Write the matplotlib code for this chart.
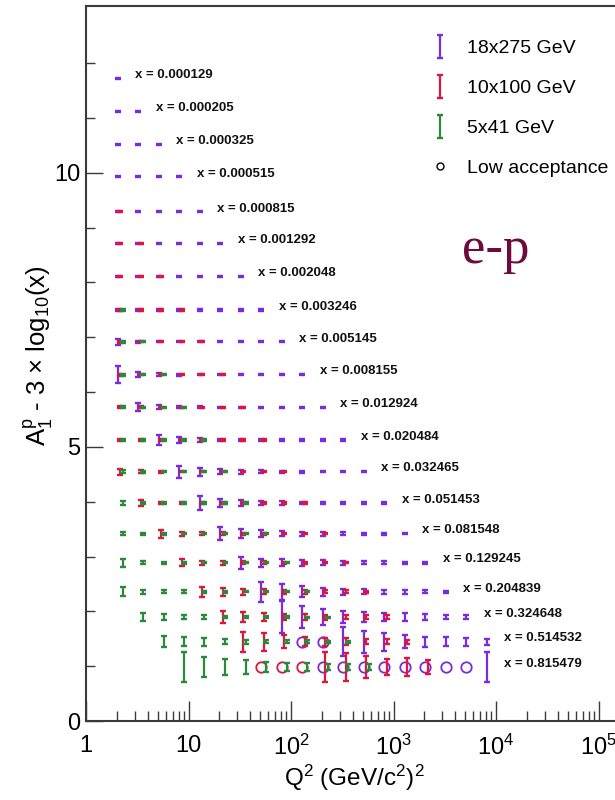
import numpy as np
import matplotlib
matplotlib.use("Agg")
import matplotlib.pyplot as plt
from matplotlib.lines import Line2D
from matplotlib.legend_handler import HandlerErrorbar
from matplotlib.ticker import FixedLocator, FuncFormatter, MultipleLocator, NullFormatter

plt.rcParams['font.family'] = ['Liberation Sans', 'DejaVu Sans']
plt.rcParams['mathtext.fontset'] = 'custom'
plt.rcParams['mathtext.rm'] = 'Liberation Sans'
plt.rcParams['mathtext.it'] = 'Liberation Sans:italic'
plt.rcParams['mathtext.bf'] = 'Liberation Sans:bold'

# x bins, one row of points each
x_bins = [0.000129, 0.000205, 0.000325, 0.000515, 0.000815, 0.001292, 0.002048,
          0.003246, 0.005145, 0.008155, 0.012924, 0.020484, 0.032465, 0.051453,
          0.081548, 0.129245, 0.204839, 0.324648, 0.514532, 0.815479]
# projected A1^p in each x bin
a1_proj = [0.05, 0.06, 0.05, 0.06, 0.02, 0.04, 0.04, 0.03, 0.05, 0.05,
           0.06, 0.06, 0.08, 0.11, 0.15, 0.22, 0.29, 0.43, 0.58, 0.72]
# Q2 bin centres (GeV^2)
q2_bins = [2.05, 3.25, 5.15, 8.16, 12.9, 20.5, 32.5, 51.5, 81.6, 129, 205,
           325, 515, 816, 1293, 2050, 3250, 5150, 8160]

# 18x275: first Q2 bin per row, then stat. errors bin by bin
ep18_first = [0, 0, 0, 0, 0, 0, 0, 0, 0, 0, 1, 2, 3, 4, 5, 6, 7, 8, 9, 10]
ep18_err = [
    [0.01],
    [0.01, 0.01],
    [0.01, 0.01, 0.01],
    [0.01, 0.01, 0.01, 0.01],
    [0.01, 0.01, 0.01, 0.01, 0.01],
    [0.015, 0.01, 0.01, 0.01, 0.01, 0.01],
    [0.015, 0.01, 0.01, 0.01, 0.01, 0.01, 0.01],
    [0.025, 0.01, 0.01, 0.01, 0.01, 0.01, 0.01, 0.01],
    [0.05, 0.015, 0.01, 0.01, 0.01, 0.01, 0.01, 0.01, 0.01],
    [0.15, 0.05, 0.025, 0.015, 0.01, 0.01, 0.01, 0.01, 0.01, 0.01],
    [0.07, 0.035, 0.02, 0.015, 0.01, 0.01, 0.01, 0.01, 0.01, 0.01],
    [0.09, 0.055, 0.035, 0.02, 0.015, 0.01, 0.01, 0.01, 0.01, 0.01],
    [0.11, 0.07, 0.045, 0.035, 0.025, 0.02, 0.015, 0.01, 0.01, 0.01],
    [0.12, 0.07, 0.05, 0.04, 0.03, 0.025, 0.02, 0.015, 0.01, 0.01],
    [0.12, 0.08, 0.06, 0.045, 0.04, 0.035, 0.03, 0.02, 0.015, 0.01],
    [0.11, 0.075, 0.06, 0.05, 0.045, 0.04, 0.03, 0.025, 0.02, 0.015],
    [0.18, 0.14, 0.10, 0.075, 0.06, 0.045, 0.04, 0.035, 0.03, 0.02],
    [0.29, 0.20, 0.15, 0.11, 0.085, 0.075, 0.07, 0.055, 0.04, 0.035],
    [0.0, 0.0, 0.26, 0.20, 0.16, 0.12, 0.09, 0.08, 0.07, 0.055],
    [0.0, 0.0, 0.0, 0.0, 0.0, 0.0, 0.0, 0.0, 0.28],
]

# 10x100
ep10_first = [None, None, None, None, 0, 0, 0, 0, 0, 0, 0, 0, 0, 1, 2, 3, 4, 5, 6, 7]
ep10_err = [
    [], [], [], [],
    [0.01],
    [0.01, 0.01],
    [0.01, 0.01, 0.01],
    [0.015, 0.01, 0.01, 0.01],
    [0.015, 0.01, 0.01, 0.01, 0.01],
    [0.015, 0.01, 0.01, 0.01, 0.01, 0.01],
    [0.02, 0.015, 0.01, 0.01, 0.01, 0.01, 0.01],
    [0.025, 0.015, 0.01, 0.01, 0.01, 0.01, 0.01, 0.01],
    [0.05, 0.025, 0.015, 0.01, 0.01, 0.01, 0.01, 0.01, 0.01],
    [0.05, 0.025, 0.02, 0.015, 0.01, 0.01, 0.01, 0.01, 0.01],
    [0.07, 0.04, 0.03, 0.025, 0.02, 0.015, 0.01, 0.01, 0.01],
    [0.06, 0.04, 0.035, 0.03, 0.025, 0.02, 0.015, 0.01, 0.01],
    [0.09, 0.07, 0.05, 0.045, 0.04, 0.035, 0.03, 0.025, 0.02],
    [0.11, 0.085, 0.07, 0.06, 0.05, 0.045, 0.04, 0.035, 0.03],
    [0.18, 0.16, 0.12, 0.08, 0.07, 0.06, 0.05, 0.05, 0.04],
    [0.0, 0.0, 0.0, 0.28, 0.25, 0.20, 0.14, 0.16, 0.12],
]

# 5x41
ep5_first = [None] * 7 + [0, 0, 0, 0, 0, 0, 0, 0, 0, 0, 1, 2, 3]
ep5_err = [
    [], [], [], [], [], [], [],
    [0.015],
    [0.015, 0.01],
    [0.015, 0.01, 0.01],
    [0.015, 0.01, 0.01, 0.01],
    [0.02, 0.01, 0.01, 0.01, 0.01],
    [0.025, 0.015, 0.01, 0.01, 0.01, 0.01],
    [0.03, 0.015, 0.01, 0.01, 0.01, 0.01, 0.01],
    [0.03, 0.02, 0.015, 0.01, 0.01, 0.01, 0.01, 0.01],
    [0.07, 0.03, 0.02, 0.015, 0.01, 0.01, 0.01, 0.01, 0.01],
    [0.08, 0.04, 0.03, 0.025, 0.02, 0.015, 0.01, 0.01, 0.01, 0.01],
    [0.075, 0.055, 0.035, 0.03, 0.025, 0.02, 0.015, 0.015, 0.01, 0.01],
    [0.10, 0.085, 0.07, 0.05, 0.035, 0.03, 0.025, 0.025, 0.02, 0.02],
    [0.27, 0.19, 0.15, 0.13, 0.09, 0.07, 0.07, 0.05, 0.05, 0.05],
]

# low-acceptance bins (row -> Q2 bin indices), drawn as open circles
ep18_lowacc = {18: [9, 10], 19: [10, 11, 12, 13, 14, 15, 16, 17]}
ep10_lowacc = {19: [7, 8, 9]}

datasets = [
    ('18x275 GeV', '#7a2be0', 1.00, ep18_first, ep18_err, ep18_lowacc),
    ('10x100 GeV', '#e0143c', 1.055, ep10_first, ep10_err, ep10_lowacc),
    ('5x41 GeV', '#2a8a3a', 1.11, ep5_first, ep5_err, {}),
]

fig = plt.figure(figsize=(6.15, 8.0), dpi=100)
ax = fig.add_axes([86 / 615, 79 / 800, 1.0, 715.5 / 800])
ax.set_xscale('log')
ax.set_xlim(1, 1e6)
ax.set_ylim(0, 13.05)

row_y = [a - 3 * np.log10(x) for a, x in zip(a1_proj, x_bins)]

handles = []
for name, col, shift, first, errs, lowacc in datasets:
    handle = None
    for r in range(len(x_bins)):
        if first[r] is None:
            continue
        low = lowacc.get(r, [])
        qx, qy, qe, cx, cy = [], [], [], [], []
        for k, e in enumerate(errs[r]):
            b = first[r] + k
            if b in low:
                cx.append(q2_bins[b])
                cy.append(row_y[r])
            else:
                qx.append(q2_bins[b] * shift)
                qy.append(row_y[r])
                qe.append(e)
        if qx:
            h = ax.errorbar(qx, qy, yerr=qe, fmt='none', ecolor=col, elinewidth=1.6,
                            capsize=2.0, capthick=1.7)
            if handle is None:
                handle = h
        if cx:
            ax.plot(cx, cy, 'o', mfc='none', mec=col, mew=1.3, ms=7.5)
    handles.append(handle)

# x labels next to the last point of each row
for r, x in enumerate(x_bins):
    last = max(first[r] + len(errs[r]) - 1 for _, _, _, first, errs, _ in datasets
               if first[r] is not None)
    ax.text(q2_bins[last] * 10 ** 0.17, row_y[r] + 0.06, f'x = {x:.6f}',
            fontsize=9.5, fontweight='bold', va='center', ha='left', color='#111111')

# axes styling
for side in ['left', 'bottom', 'top', 'right']:
    ax.spines[side].set_color('#3a3a3a')
    ax.spines[side].set_linewidth(1.5)

decades = [10 ** k for k in range(0, 7)]
ax.xaxis.set_major_locator(FixedLocator(decades))
ax.xaxis.set_minor_locator(FixedLocator([m * 10 ** k for k in range(0, 6) for m in range(2, 10)]))


def q2_label(v, pos):
    k = int(round(np.log10(v)))
    if k == 0:
        return '1'
    if k == 1:
        return '10'
    return r'$10^{%d}$' % k


ax.xaxis.set_major_formatter(FuncFormatter(q2_label))
ax.xaxis.set_minor_formatter(NullFormatter())
ax.yaxis.set_major_locator(FixedLocator([0, 5, 10]))
ax.yaxis.set_minor_locator(FixedLocator(list(range(1, 13))))

ax.tick_params(axis='x', which='major', direction='in', length=14.5, width=1.0,
               color='#3a3a3a', labelsize=17, pad=10, top=False)
ax.tick_params(axis='x', which='minor', direction='in', length=7.2, width=1.0,
               color='#3a3a3a', top=False)
ax.tick_params(axis='y', which='major', direction='in', length=12.5, width=1.0,
               color='#3a3a3a', labelsize=17, pad=4, right=False)
ax.tick_params(axis='y', which='minor', direction='in', length=6.5, width=1.0,
               color='#3a3a3a', right=False)

ax.set_xlabel(r'Q$^2$ (GeV/c$^2$)$^2$', fontsize=17.5)
ax.xaxis.set_label_coords(0.437, -0.058)
ax.set_ylabel(r'A$_1^{\mathrm{p}}$ - 3 $\times$ log$_{10}$(x)', fontsize=18.5)
ax.yaxis.set_label_coords(-0.05, 0.51)

# legend
circle = Line2D([], [], ls='none', marker='o', mfc='none', mec='black', mew=1.0, ms=5)
leg = ax.legend(handles + [circle], [d[0] for d in datasets] + ['Low acceptance'],
                loc='upper left', bbox_to_anchor=(421 / 615, 1 - 30 / 800),
                bbox_transform=fig.transFigure, frameon=False, fontsize=14,
                handlelength=1.0, handletextpad=0.85, labelspacing=1.15, borderpad=0,
                handler_map={type(handles[0]): HandlerErrorbar(yerr_size=0.6)})

fig.text(462 / 615, 1 - 263 / 800, 'e-p', fontsize=38, color='#6e0a3c',
         family='Liberation Serif', ha='left', va='baseline')

fig.savefig('out.png', dpi=100)
